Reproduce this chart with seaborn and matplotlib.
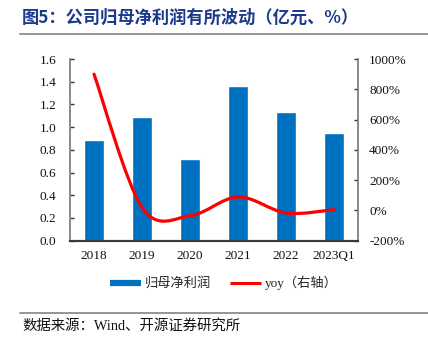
import numpy as np
import pandas as pd
import matplotlib
matplotlib.use("Agg")
import matplotlib.pyplot as plt
from matplotlib.path import Path
from matplotlib.patches import PathPatch
from matplotlib.lines import Line2D
import seaborn as sns

categories = ["2018", "2019", "2020", "2021", "2022", "2023Q1"]
profit = [0.89, 1.09, 0.72, 1.36, 1.13, 0.95]
yoy = [900, 20, -36, 89, -17, 5]
left_ticks = [0.0, 0.2, 0.4, 0.6, 0.8, 1.0, 1.2, 1.4, 1.6]
right_ticks = [-200, 0, 200, 400, 600, 800, 1000]

title = "图5：公司归母净利润有所波动（亿元、%）"
source = "数据来源：Wind、开源证券研究所"
bar_label = "归母净利润"
line_label = "yoy（右轴）"

sns.set_theme(style="white")
plt.rcParams['font.family'] = ['Liberation Serif', 'Noto Sans CJK SC', 'DejaVu Sans']

BLUE = "#0070C0"
RED = "#FF0000"
W, H = 428, 340
fig = plt.figure(figsize=(W / 100, H / 100), dpi=100)
ax = fig.add_axes([70 / W, 1 - 240.7 / H, 288 / W, 181.7 / H])

df = pd.DataFrame({"cat": categories, "profit": profit})
sns.barplot(data=df, x="cat", y="profit", color=BLUE, saturation=1, width=0.4, ax=ax)
ax.set_xlim(-0.5, len(categories) - 0.5)
ax.set_ylim(0, 1.6)
ax.set_yticks(left_ticks)
ax.set_yticklabels([f"{v:.1f}" for v in left_ticks])
ax.set_xlabel("")
ax.set_ylabel("")
ax.set_xticks(np.arange(len(categories)))
ax.set_xticklabels(categories)
ax.set_xticks(np.arange(len(categories) + 1) - 0.5, minor=True)
ax.tick_params(axis="x", which="major", length=0, pad=7, labelsize=9.5, colors="#111111")
ax.tick_params(axis="x", which="minor", direction="in", length=3, width=1, color="#555555")
ax.tick_params(axis="y", direction="in", length=3, width=1, color="#333333", pad=10,
               labelsize=9.5, labelcolor="#111111", left=True)

ax2 = ax.twinx()
ax2.set_ylim(-200, 1000)
ax2.set_yticks(right_ticks)
ax2.set_yticklabels([f"{v}%" for v in right_ticks])
ax2.tick_params(axis="y", direction="in", length=3, width=1, color="#333333", pad=8,
                labelsize=9.5, labelcolor="#111111", right=True)

# smooth line through yoy points (Catmull-Rom as cubic Bezier)
pts = np.column_stack([np.arange(len(yoy)), np.array(yoy, dtype=float)])
n = len(pts)
verts = [tuple(pts[0])]
codes = [Path.MOVETO]
for i in range(n - 1):
    p0 = pts[i - 1] if i > 0 else pts[i]
    p1 = pts[i]
    p2 = pts[i + 1]
    p3 = pts[i + 2] if i + 2 < n else pts[i + 1]
    c1 = p1 + (p2 - p0) / 6
    c2 = p2 - (p3 - p1) / 6
    verts += [tuple(c1), tuple(c2), tuple(p2)]
    codes += [Path.CURVE4] * 3
ax2.add_patch(PathPatch(Path(verts, codes), facecolor="none", edgecolor=RED,
                        lw=2.3, capstyle="round", joinstyle="round", zorder=5))

for a in (ax, ax2):
    a.spines["top"].set_visible(False)
    a.spines["left"].set_color("#8a8a8a")
    a.spines["right"].set_color("#8a8a8a")
    a.spines["left"].set_linewidth(1.2)
    a.spines["right"].set_linewidth(1.2)
    a.spines["bottom"].set_color("#3a3a3a")
    a.spines["bottom"].set_linewidth(1.5)
    a.grid(False)

# title and rules
fig.text(22 / W, 1 - 18 / H, title, fontsize=12.4, fontweight="bold", color="#1B3A8C",
         family=['Noto Sans CJK SC', 'DejaVu Sans'], va="center", ha="left")
fig.add_artist(Line2D([20 / W, 1], [1 - 33.5 / H] * 2, color="#8c8c8c", lw=1.3))
fig.add_artist(Line2D([20 / W, 1], [1 - 312.7 / H] * 2, color="#8c8c8c", lw=1.3))
fig.text(22 / W, 1 - 325.5 / H, source, fontsize=10.4, color="#111111",
         family=['Liberation Serif', 'Noto Sans CJK SC'], va="center", ha="left")

handles = [Line2D([], [], color=BLUE, lw=4.5, solid_capstyle="butt"),
           Line2D([], [], color=RED, lw=2.2, solid_capstyle="butt")]
fig.legend(handles, [bar_label, line_label], loc="center", ncol=2, frameon=False,
           bbox_to_anchor=(224 / W, 1 - 283 / H), handlelength=2.35,
           handletextpad=0.3, columnspacing=1.4,
           prop={'family': ['Liberation Serif', 'Noto Sans CJK SC'], 'size': 9.5})

fig.savefig("out.png", dpi=100)
